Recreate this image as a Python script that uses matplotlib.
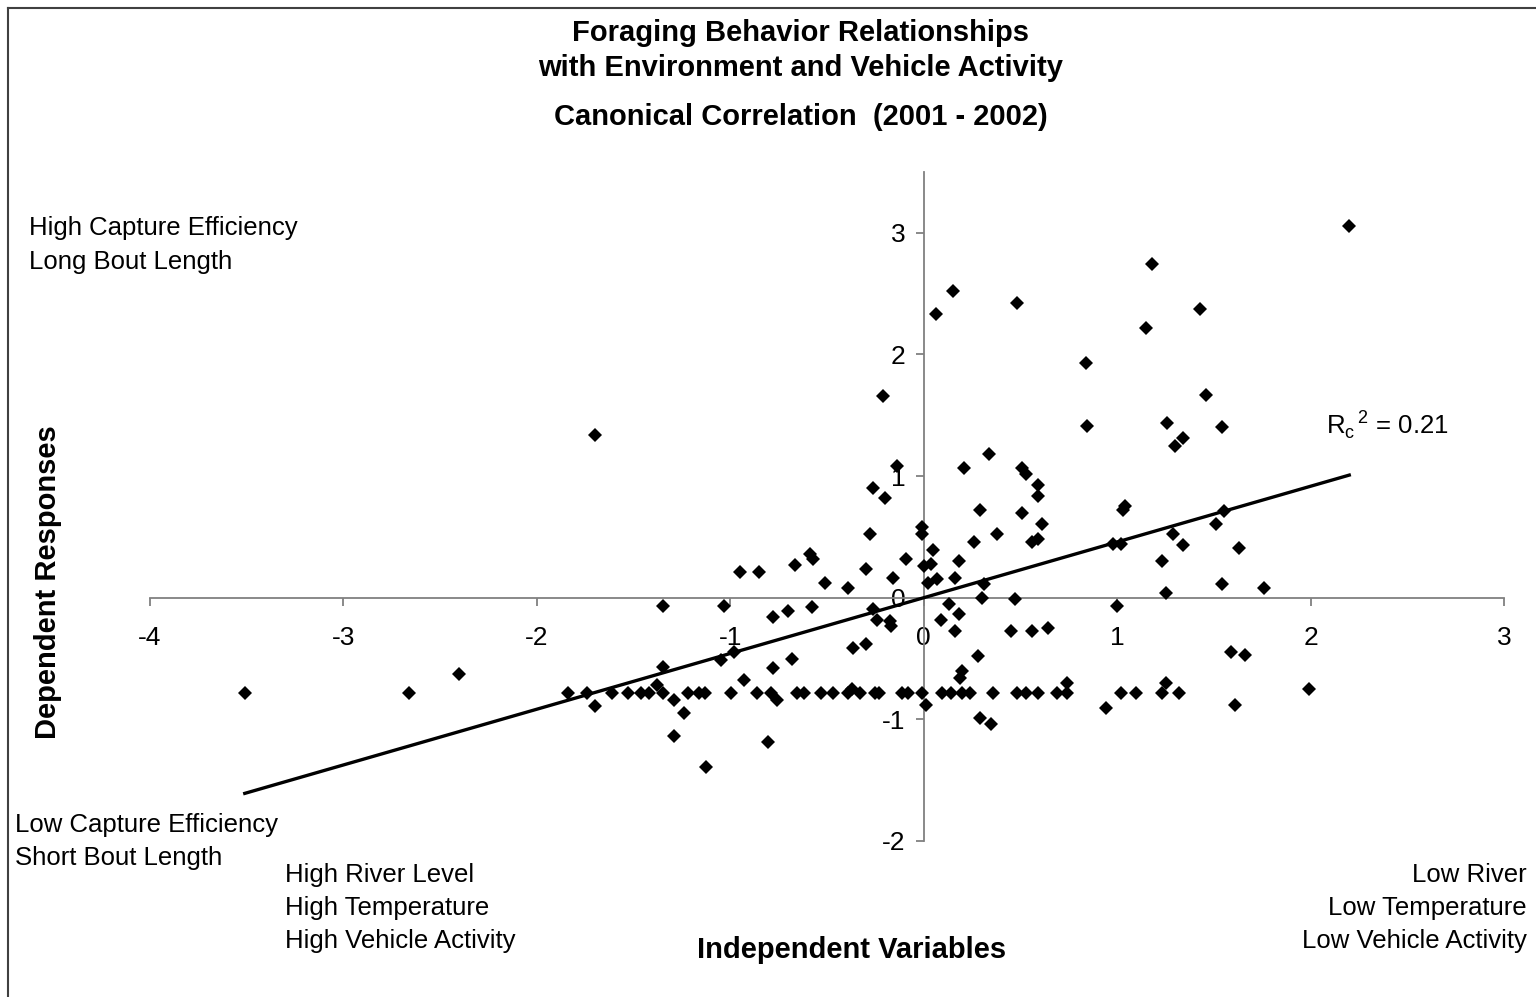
import numpy as np
import matplotlib
matplotlib.use("Agg")
import matplotlib.pyplot as plt
from matplotlib.lines import Line2D

plt.rcParams['font.family'] = ['Liberation Sans', 'DejaVu Sans']

# canonical variate scores: independent (x) vs dependent (y)
x_scores = [
    -3.51, -2.66, -2.40, -1.84, -1.74, -1.70, -1.70, -1.61, -1.53, -1.46,
    -1.42, -1.38, -1.35, -1.35, -1.35, -1.29, -1.24, -1.29, -1.22, -1.16,
    -1.13, -1.125, -1.05, -1.03, -0.995, -0.98, -0.95, -0.93, -0.86, -0.85,
    -0.805, -0.79, -0.78, -0.78, -0.76, -0.70, -0.68, -0.665, -0.655, -0.62,
    -0.59, -0.57, -0.58,
    -0.53, -0.51, -0.47, -0.39, -0.39, -0.37, -0.365, -0.33, -0.30, -0.30,
    -0.28, -0.26, -0.26, -0.25, -0.24, -0.23, -0.21, -0.20, -0.175, -0.17,
    -0.16, -0.14, -0.11, -0.09, -0.08, -0.01, -0.01, -0.01, 0.0, 0.01,
    0.02, 0.04, 0.05, 0.07, 0.066, 0.09, 0.095, 0.13, 0.14, 0.15,
    0.16, 0.16, 0.18, 0.18, 0.19, 0.20, 0.20, 0.21, 0.24, 0.26,
    0.28, 0.29, 0.29, 0.30, 0.31, 0.34, 0.35, 0.36, 0.38,
    0.45, 0.47, 0.48, 0.48, 0.51, 0.51, 0.53, 0.53, 0.56, 0.56,
    0.59, 0.59, 0.59, 0.59, 0.61, 0.64, 0.69, 0.74, 0.74, 0.84,
    0.845, 0.94, 0.98, 1.00, 1.02, 1.02, 1.03, 1.04, 1.10, 1.15,
    1.18, 1.23, 1.23, 1.25, 1.25, 1.26, 1.29, 1.30, 1.32, 1.34,
    1.34, 1.43, 1.46, 1.51, 1.54, 1.54, 1.55, 1.59, 1.61, 1.63,
    1.66, 1.76, 1.99, 2.20,
]
y_scores = [
    -0.78, -0.78, -0.63, -0.78, -0.78, -0.89, 1.34, -0.78, -0.78, -0.78,
    -0.78, -0.72, -0.78, -0.07, -0.57, -0.84, -0.95, -1.14, -0.78, -0.78,
    -0.78, -1.39, -0.51, -0.07, -0.78, -0.45, 0.21, -0.68, -0.78, 0.21,
    -1.19, -0.78, -0.16, -0.58, -0.84, -0.11, -0.50, 0.27, -0.78, -0.78,
    0.36, 0.32, -0.08,
    -0.78, 0.12, -0.78, 0.08, -0.78, -0.75, -0.41, -0.78, 0.24, -0.38,
    0.52, 0.90, -0.09, -0.78, -0.18, -0.78, 1.66, 0.82, -0.19, -0.23,
    0.16, 1.08, -0.78, 0.32, -0.78, 0.58, 0.52, -0.78, 0.26, -0.88,
    0.12, 0.28, 0.39, 0.15, 2.33, -0.18, -0.78, -0.05, -0.78, 2.52,
    0.16, -0.27, 0.30, -0.13, -0.66, -0.60, -0.78, 1.07, -0.78, 0.46,
    -0.48, 0.72, -0.99, 0.0, 0.11, 1.18, -1.04, -0.78, 0.52,
    -0.27, -0.01, -0.78, 2.42, 1.07, 0.70, 1.02, -0.78, 0.46, -0.27,
    0.93, 0.84, 0.48, -0.78, 0.61, -0.25, -0.78, -0.78, -0.70, 1.93,
    1.41, -0.91, 0.44, -0.07, 0.44, -0.78, 0.72, 0.75, -0.78, 2.22,
    2.74, 0.30, -0.78, 0.04, -0.70, 1.44, 0.52, 1.25, -0.78, 1.31,
    0.43, 2.37, 1.67, 0.61, 1.40, 0.11, 0.71, -0.45, -0.88, 0.41,
    -0.47, 0.08, -0.75, 3.06,
]

rc2 = 0.21            # squared canonical correlation
x_ticks = [-4, -3, -2, -1, 0, 1, 2, 3]
y_ticks = [-2, -1, 0, 1, 2, 3]

W, H = 1536, 997
fig = plt.figure(figsize=(W / 100, H / 100), dpi=100)


def fx(px):
    return px / W


def fy(py):
    return 1 - py / H


ax = fig.add_axes([fx(150), fy(841), fx(1504) - fx(150), fy(172) - fy(841)])
ax.set_xlim(-4, 3)
ax.set_ylim(-2, 3.5)

# axes cross at the origin
for side in ['top', 'right']:
    ax.spines[side].set_visible(False)
ax.spines['left'].set_position(('data', 0))
ax.spines['bottom'].set_position(('data', 0))
for side in ['left', 'bottom']:
    ax.spines[side].set_color('#808080')
    ax.spines[side].set_linewidth(1.3)
ax.set_xticks(x_ticks)
ax.set_yticks(y_ticks)
ax.set_xticklabels([str(t) for t in x_ticks])
ax.set_yticklabels([str(t) for t in y_ticks])
ax.tick_params(axis='both', direction='out', length=6, width=1.3,
               color='#808080', labelsize=19)
ax.tick_params(axis='x', pad=14)
ax.tick_params(axis='y', pad=7)

ax.plot(x_scores, y_scores, linestyle='none', marker='D', markersize=7,
        color='black', markeredgewidth=0, zorder=3)

# fitted line: slope is the canonical correlation
r = np.sqrt(rc2)
xs = np.array([min(x_scores), max(x_scores)])
ax.plot(xs, r * xs, color='black', linewidth=2.4, zorder=4)

ax.text(2.08, 1.344, r'R$_\mathregular{c}$$^\mathregular{\,2}$ = %.2f' % rc2,
        fontsize=18.5, ha='left', va='baseline')

# titles
fig.text(fx(801), fy(33), 'Foraging Behavior Relationships', fontsize=21,
         fontweight='bold', ha='center', va='center')
fig.text(fx(801), fy(68), 'with Environment and Vehicle Activity', fontsize=21,
         fontweight='bold', ha='center', va='center')
fig.text(fx(801), fy(117), 'Canonical Correlation  (2001 - 2002)', fontsize=21,
         fontweight='bold', ha='center', va='center')

fig.text(fx(48), fy(582), 'Dependent Responses', fontsize=21, fontweight='bold',
         rotation=90, ha='center', va='center')
fig.text(fx(852), fy(950), 'Independent Variables', fontsize=21,
         fontweight='bold', ha='center', va='center')

# corner descriptors
fig.text(fx(29), fy(228), 'High Capture Efficiency', fontsize=18.5, va='center')
fig.text(fx(29), fy(262), 'Long Bout Length', fontsize=18.5, va='center')
fig.text(fx(15), fy(825), 'Low Capture Efficiency', fontsize=18.5, va='center')
fig.text(fx(15), fy(858), 'Short Bout Length', fontsize=18.5, va='center')
for i, s in enumerate(['High River Level', 'High Temperature',
                       'High Vehicle Activity']):
    fig.text(fx(285), fy(875 + 33 * i), s, fontsize=18.5, va='center')
for i, s in enumerate(['Low River', 'Low Temperature', 'Low Vehicle Activity']):
    fig.text(fx(1527), fy(875 + 33 * i), s, fontsize=18.5, va='center', ha='right')

# chart frame (left and top edges)
fig.add_artist(Line2D([fx(8), fx(8)], [fy(8), 0], color='#404040', linewidth=1.5))
fig.add_artist(Line2D([fx(8), 1], [fy(8), fy(8)], color='#404040', linewidth=1.5))

fig.savefig('out.png', dpi=100)
